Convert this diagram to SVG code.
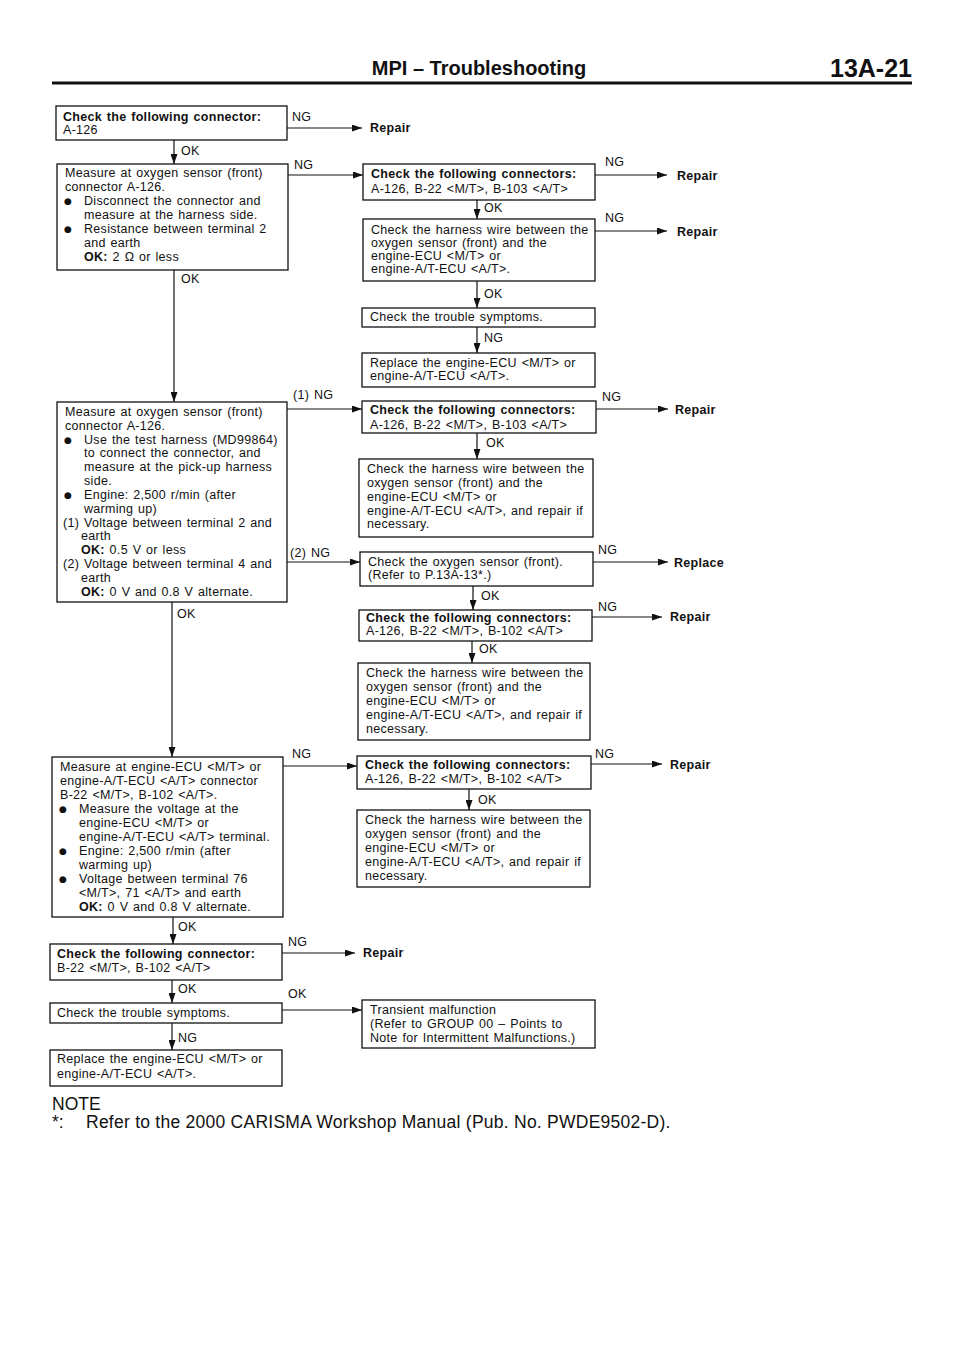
<svg xmlns="http://www.w3.org/2000/svg" width="960" height="1358" viewBox="0 0 960 1358">
<style>
.bg{fill:#fff}
.box{fill:#fff;stroke:#111;stroke-width:1.3}
.ln{fill:none;stroke:#111;stroke-width:1.2;marker-end:url(#ah)}
text{font-family:"Liberation Sans",Arial,sans-serif;fill:#111}
.t{font-size:12.5px;letter-spacing:0.3px;word-spacing:1px}
.b{font-weight:bold}
.bu{font-size:9px;font-family:"DejaVu Sans",sans-serif}
</style>
<defs>
<marker id="ah" markerUnits="userSpaceOnUse" markerWidth="10" markerHeight="7" refX="10" refY="3.5" orient="auto">
<path d="M0,0 L10,3.5 L0,7 z" fill="#111"/>
</marker>
</defs>
<rect class="bg" x="0" y="0" width="960" height="1358"/>

<g id="header">
<text x="479" y="75" text-anchor="middle" class="b" font-size="20">MPI – Troubleshooting</text>
<text x="912" y="77" text-anchor="end" class="b" font-size="25">13A-21</text>
<line x1="52" y1="83" x2="912" y2="83" stroke="#111" stroke-width="3"/>
</g>

<g id="connectors">
<line class="ln" x1="287" y1="128" x2="362" y2="128"/>
<text class="t" x="292" y="121">NG</text>
<text class="t b" x="370" y="132">Repair</text>
<line class="ln" x1="174" y1="140" x2="174" y2="164"/>
<text class="t" x="181" y="155">OK</text>
<line class="ln" x1="288" y1="175" x2="363" y2="175"/>
<text class="t" x="294" y="169">NG</text>
<line class="ln" x1="174" y1="270" x2="174" y2="402"/>
<text class="t" x="181" y="283">OK</text>
<line class="ln" x1="595" y1="175" x2="667" y2="175"/>
<text class="t" x="605" y="166">NG</text>
<text class="t b" x="677" y="180">Repair</text>
<line class="ln" x1="477" y1="200" x2="477" y2="219"/>
<text class="t" x="484" y="212">OK</text>
<line class="ln" x1="595" y1="231" x2="667" y2="231"/>
<text class="t" x="605" y="222">NG</text>
<text class="t b" x="677" y="236">Repair</text>
<line class="ln" x1="477" y1="281" x2="477" y2="308"/>
<text class="t" x="484" y="298">OK</text>
<line class="ln" x1="477" y1="327" x2="477" y2="353"/>
<text class="t" x="484" y="342">NG</text>
<line class="ln" x1="287" y1="409" x2="362" y2="409"/>
<text class="t" x="293" y="399">(1) NG</text>
<line class="ln" x1="287" y1="562" x2="360" y2="562"/>
<text class="t" x="290" y="557">(2) NG</text>
<line class="ln" x1="172" y1="602" x2="172" y2="757"/>
<text class="t" x="177" y="618">OK</text>
<line class="ln" x1="596" y1="409" x2="668" y2="409"/>
<text class="t" x="602" y="401">NG</text>
<text class="t b" x="675" y="414">Repair</text>
<line class="ln" x1="477" y1="433" x2="477" y2="459"/>
<text class="t" x="486" y="447">OK</text>
<line class="ln" x1="593" y1="562" x2="668" y2="562"/>
<text class="t" x="598" y="554">NG</text>
<text class="t b" x="674" y="567">Replace</text>
<line class="ln" x1="473" y1="586" x2="473" y2="610"/>
<text class="t" x="481" y="600">OK</text>
<line class="ln" x1="592" y1="617" x2="662" y2="617"/>
<text class="t" x="598" y="611">NG</text>
<text class="t b" x="670" y="621">Repair</text>
<line class="ln" x1="472" y1="641" x2="472" y2="663"/>
<text class="t" x="479" y="653">OK</text>
<line class="ln" x1="283" y1="766" x2="357" y2="766"/>
<text class="t" x="292" y="758">NG</text>
<line class="ln" x1="173" y1="917" x2="173" y2="944"/>
<text class="t" x="178" y="931">OK</text>
<line class="ln" x1="591" y1="764" x2="662" y2="764"/>
<text class="t" x="595" y="758">NG</text>
<text class="t b" x="670" y="769">Repair</text>
<line class="ln" x1="469" y1="789" x2="469" y2="810"/>
<text class="t" x="478" y="804">OK</text>
<line class="ln" x1="282" y1="953" x2="355" y2="953"/>
<text class="t" x="288" y="946">NG</text>
<text class="t b" x="363" y="957">Repair</text>
<line class="ln" x1="172" y1="980" x2="172" y2="1003"/>
<text class="t" x="178" y="993">OK</text>
<line class="ln" x1="282" y1="1010" x2="362" y2="1010"/>
<text class="t" x="288" y="998">OK</text>
<line class="ln" x1="172" y1="1023" x2="172" y2="1050"/>
<text class="t" x="178" y="1042">NG</text>
</g>

<g id="B1">
<rect class="box" x="56" y="106" width="231" height="34"/>
<text class="t b" x="63" y="121">Check the following connector:</text>
<text class="t" x="63" y="134">A-126</text>
</g>

<g id="B2">
<rect class="box" x="57" y="164" width="231" height="106"/>
<text class="t" x="65" y="177">Measure at oxygen sensor (front)</text>
<text class="t" x="65" y="191">connector A-126.</text>
<text class="bu" x="64" y="204">●</text>
<text class="t" x="84" y="205">Disconnect the connector and</text>
<text class="t" x="84" y="219">measure at the harness side.</text>
<text class="bu" x="64" y="232">●</text>
<text class="t" x="84" y="233">Resistance between terminal 2</text>
<text class="t" x="84" y="247">and earth</text>
<text class="t" x="84" y="261"><tspan class="b">OK:</tspan>  2 Ω or less</text>
</g>

<g id="R1">
<rect class="box" x="363" y="164" width="232" height="36"/>
<text class="t b" x="371" y="178">Check the following connectors:</text>
<text class="t" x="371" y="193">A-126, B-22 &lt;M/T&gt;, B-103 &lt;A/T&gt;</text>
</g>

<g id="R2">
<rect class="box" x="363" y="219" width="232" height="62"/>
<text class="t" x="371" y="234">Check the harness wire between the</text>
<text class="t" x="371" y="247">oxygen sensor (front) and the</text>
<text class="t" x="371" y="260">engine-ECU &lt;M/T&gt; or</text>
<text class="t" x="371" y="273">engine-A/T-ECU &lt;A/T&gt;.</text>
</g>

<g id="R3a">
<rect class="box" x="362" y="308" width="233" height="19"/>
<text class="t" x="370" y="321">Check the trouble symptoms.</text>
</g>

<g id="R3b">
<rect class="box" x="362" y="353" width="233" height="34"/>
<text class="t" x="370" y="367">Replace the engine-ECU &lt;M/T&gt; or</text>
<text class="t" x="370" y="380">engine-A/T-ECU &lt;A/T&gt;.</text>
</g>

<g id="B3">
<rect class="box" x="57" y="402" width="230" height="200"/>
<text class="t" x="65" y="416">Measure at oxygen sensor (front)</text>
<text class="t" x="65" y="430">connector A-126.</text>
<text class="bu" x="64" y="443">●</text>
<text class="t" x="84" y="444">Use the test harness (MD99864)</text>
<text class="t" x="84" y="457">to connect the connector, and</text>
<text class="t" x="84" y="471">measure at the pick-up harness</text>
<text class="t" x="84" y="485">side.</text>
<text class="bu" x="64" y="498">●</text>
<text class="t" x="84" y="499">Engine: 2,500 r/min (after</text>
<text class="t" x="84" y="513">warming up)</text>
<text class="t" x="63" y="527">(1) Voltage between terminal 2 and</text>
<text class="t" x="81" y="540">earth</text>
<text class="t" x="81" y="554"><tspan class="b">OK:</tspan>  0.5 V or less</text>
<text class="t" x="63" y="568">(2) Voltage between terminal 4 and</text>
<text class="t" x="81" y="582">earth</text>
<text class="t" x="81" y="596"><tspan class="b">OK:</tspan>  0 V and 0.8 V alternate.</text>
</g>

<g id="R3">
<rect class="box" x="362" y="401" width="234" height="32"/>
<text class="t b" x="370" y="414">Check the following connectors:</text>
<text class="t" x="370" y="429">A-126, B-22 &lt;M/T&gt;, B-103 &lt;A/T&gt;</text>
</g>

<g id="R4">
<rect class="box" x="359" y="459" width="234" height="78"/>
<text class="t" x="367" y="473">Check the harness wire between the</text>
<text class="t" x="367" y="487">oxygen sensor (front) and the</text>
<text class="t" x="367" y="501">engine-ECU &lt;M/T&gt; or</text>
<text class="t" x="367" y="515">engine-A/T-ECU &lt;A/T&gt;, and repair if</text>
<text class="t" x="367" y="528">necessary.</text>
</g>

<g id="R5">
<rect class="box" x="360" y="552" width="233" height="34"/>
<text class="t" x="368" y="566">Check the oxygen sensor (front).</text>
<text class="t" x="368" y="579">(Refer to P.13A-13*.)</text>
</g>

<g id="R6">
<rect class="box" x="359" y="610" width="233" height="31"/>
<text class="t b" x="366" y="622">Check the following connectors:</text>
<text class="t" x="366" y="635">A-126, B-22 &lt;M/T&gt;, B-102 &lt;A/T&gt;</text>
</g>

<g id="R7">
<rect class="box" x="358" y="663" width="232" height="77"/>
<text class="t" x="366" y="677">Check the harness wire between the</text>
<text class="t" x="366" y="691">oxygen sensor (front) and the</text>
<text class="t" x="366" y="705">engine-ECU &lt;M/T&gt; or</text>
<text class="t" x="366" y="719">engine-A/T-ECU &lt;A/T&gt;, and repair if</text>
<text class="t" x="366" y="733">necessary.</text>
</g>

<g id="B5">
<rect class="box" x="52" y="757" width="231" height="160"/>
<text class="t" x="60" y="771">Measure at engine-ECU &lt;M/T&gt; or</text>
<text class="t" x="60" y="785">engine-A/T-ECU &lt;A/T&gt; connector</text>
<text class="t" x="60" y="799">B-22 &lt;M/T&gt;, B-102 &lt;A/T&gt;.</text>
<text class="bu" x="59" y="812">●</text>
<text class="t" x="79" y="813">Measure the voltage at the</text>
<text class="t" x="79" y="827">engine-ECU &lt;M/T&gt; or</text>
<text class="t" x="79" y="841">engine-A/T-ECU &lt;A/T&gt; terminal.</text>
<text class="bu" x="59" y="854">●</text>
<text class="t" x="79" y="855">Engine: 2,500 r/min (after</text>
<text class="t" x="79" y="869">warming up)</text>
<text class="bu" x="59" y="882">●</text>
<text class="t" x="79" y="883">Voltage between terminal 76</text>
<text class="t" x="79" y="897">&lt;M/T&gt;, 71 &lt;A/T&gt; and earth</text>
<text class="t" x="79" y="911"><tspan class="b">OK:</tspan>  0 V and 0.8 V alternate.</text>
</g>

<g id="R8">
<rect class="box" x="357" y="756" width="234" height="33"/>
<text class="t b" x="365" y="769">Check the following connectors:</text>
<text class="t" x="365" y="783">A-126, B-22 &lt;M/T&gt;, B-102 &lt;A/T&gt;</text>
</g>

<g id="R9">
<rect class="box" x="357" y="810" width="233" height="77"/>
<text class="t" x="365" y="824">Check the harness wire between the</text>
<text class="t" x="365" y="838">oxygen sensor (front) and the</text>
<text class="t" x="365" y="852">engine-ECU &lt;M/T&gt; or</text>
<text class="t" x="365" y="866">engine-A/T-ECU &lt;A/T&gt;, and repair if</text>
<text class="t" x="365" y="880">necessary.</text>
</g>

<g id="B6">
<rect class="box" x="50" y="944" width="232" height="36"/>
<text class="t b" x="57" y="958">Check the following connector:</text>
<text class="t" x="57" y="972">B-22 &lt;M/T&gt;, B-102 &lt;A/T&gt;</text>
</g>

<g id="B7">
<rect class="box" x="50" y="1003" width="232" height="20"/>
<text class="t" x="57" y="1017">Check the trouble symptoms.</text>
</g>

<g id="R10">
<rect class="box" x="362" y="1000" width="233" height="48"/>
<text class="t" x="370" y="1014">Transient malfunction</text>
<text class="t" x="370" y="1028">(Refer to GROUP 00 – Points to</text>
<text class="t" x="370" y="1042">Note for Intermittent Malfunctions.)</text>
</g>

<g id="B8">
<rect class="box" x="50" y="1050" width="232" height="36"/>
<text class="t" x="57" y="1063">Replace the engine-ECU &lt;M/T&gt; or</text>
<text class="t" x="57" y="1078">engine-A/T-ECU &lt;A/T&gt;.</text>
</g>

<g id="note">
<text x="52" y="1110" font-size="17.5">NOTE</text>
<text x="52" y="1128" font-size="17.5">*:</text>
<text x="86" y="1128" font-size="17.5" letter-spacing="0.25">Refer to the 2000 CARISMA Workshop Manual (Pub. No. PWDE9502-D).</text>
</g>
</svg>
